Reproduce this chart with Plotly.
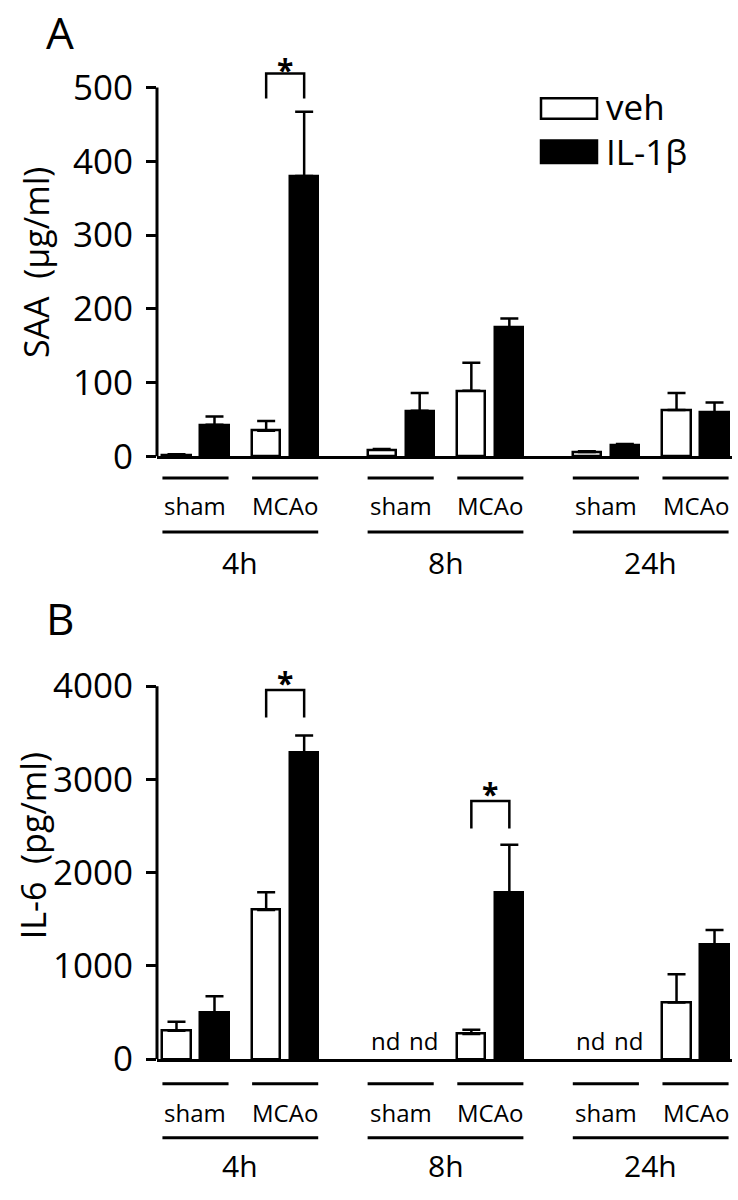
import plotly.graph_objects as go

# ---------------- data ----------------
times = ["4h", "8h", "24h"]
conditions = ["sham", "MCAo"]
treatments = ["veh", "IL-1β"]

# order of groups: 4h sham, 4h MCAo, 8h sham, 8h MCAo, 24h sham, 24h MCAo
saa_veh = [2, 35, 9, 89, 6, 63]
saa_veh_err = [1, 13, 1, 38, 1, 23]
saa_il1b = [43, 380, 62, 175, 15, 60]
saa_il1b_err = [11, 87, 24, 12, 2, 13]

# None = not detected (nd)
il6_veh = [305, 1600, None, 270, None, 607]
il6_veh_err = [98, 190, None, 45, None, 305]
il6_il1b = [498, 3290, None, 1789, None, 1228]
il6_il1b_err = [176, 180, None, 510, None, 158]

saa_ticks = [0, 100, 200, 300, 400, 500]
il6_ticks = [0, 1000, 2000, 3000, 4000]

# significance brackets: (group index, bracket top, leg bottom)
saa_sig = [(1, 519, 485)]
il6_sig = [(1, 3958, 3663), (3, 2768, 2474)]

# ---------------- layout constants ----------------
W, H = 738, 1200
FONT = "Open Sans"
T_STEP, C_STEP, K_STEP, BAR_W = 5.4, 2.36, 1.0, 0.74
X_RANGE = [-0.513, 14.62]
X_DOM = [157 / W, 732 / W]


def px_y(p):
    return 1 - p / H


def base_x(g):
    return (g // 2) * T_STEP + (g % 2) * C_STEP


n_groups = len(times) * len(conditions)
x_veh = [base_x(g) for g in range(n_groups)]
x_il = [base_x(g) + K_STEP for g in range(n_groups)]

fig = go.Figure()

panels = [
    dict(xa="x", ya="y", veh=saa_veh, veh_e=saa_veh_err, il=saa_il1b, il_e=saa_il1b_err,
         ticks=saa_ticks, yr=[0, 560], ydom=[px_y(465), px_y(44)], sig=saa_sig,
         title="SAA  (μg/ml)", tx=36, ty=268, letter="A", ltop=0,
         cond_line=487, cond_lab=515, time_line=542, time_lab=573, star_shift=4),
    dict(xa="x2", ya="y2", veh=il6_veh, veh_e=il6_veh_err, il=il6_il1b, il_e=il6_il1b_err,
         ticks=il6_ticks, yr=[0, 4500], ydom=[px_y(1079), px_y(651.5)], sig=il6_sig,
         title="IL-6  (pg/ml)", tx=33, ty=862, letter="B", ltop=597,
         cond_line=1104, cond_lab=1133, time_line=1159, time_lab=1187, star_shift=8),
]

shapes = []
annotations = []

for i, p in enumerate(panels):
    xa, ya = p["xa"], p["ya"]
    for xs, ys, es, fill, name in [(x_veh, p["veh"], p["veh_e"], "white", treatments[0]),
                                   (x_il, p["il"], p["il_e"], "black", treatments[1])]:
        fig.add_trace(go.Bar(
            x=xs, y=ys, width=BAR_W, name=name, showlegend=False,
            marker=dict(color=fill, line=dict(color="black", width=2.5)),
            error_y=dict(type="data", array=es, arrayminus=[0] * len(es), symmetric=False,
                         color="black", thickness=2.5, width=9),
            xaxis=xa, yaxis=ya,
        ))
        # nd labels
        for xv, yv in zip(xs, ys):
            if yv is None:
                annotations.append(dict(x=xv, y=0, xref=xa, yref=ya, text="nd", showarrow=False,
                                        xanchor="center", yanchor="bottom", xshift=4,
                                        font=dict(family=FONT, size=24, color="black")))

    # y axis line from 0 to top tick
    shapes.append(dict(type="line", xref="paper", yref=ya, x0=X_DOM[0], x1=X_DOM[0],
                       y0=0, y1=p["ticks"][-1], line=dict(color="black", width=3)))

    # group underlines and labels
    for g in range(n_groups):
        x0 = x_veh[g] - BAR_W / 2
        x1 = x_il[g] + BAR_W / 2
        shapes.append(dict(type="line", xref=xa, yref="paper", x0=x0, x1=x1,
                           y0=px_y(p["cond_line"]), y1=px_y(p["cond_line"]),
                           line=dict(color="black", width=3)))
        annotations.append(dict(x=(x0 + x1) / 2, y=px_y(p["cond_lab"]), xref=xa, yref="paper",
                                text=conditions[g % 2], showarrow=False, yanchor="middle",
                                font=dict(family=FONT, size=24, color="black")))
    for t in range(len(times)):
        x0 = x_veh[2 * t] - BAR_W / 2
        x1 = x_il[2 * t + 1] + BAR_W / 2
        shapes.append(dict(type="line", xref=xa, yref="paper", x0=x0, x1=x1,
                           y0=px_y(p["time_line"]), y1=px_y(p["time_line"]),
                           line=dict(color="black", width=3)))
        annotations.append(dict(x=(x0 + x1) / 2, y=px_y(p["time_lab"]), xref=xa, yref="paper",
                                text=times[t], showarrow=False, yanchor="middle",
                                font=dict(family=FONT, size=30, color="black")))

    # significance brackets
    for g, top, bottom in p["sig"]:
        xl, xr = x_veh[g], x_il[g]
        shapes.append(dict(type="path", xref=xa, yref=ya,
                           path=f"M {xl},{bottom} L {xl},{top} L {xr},{top} L {xr},{bottom}",
                           line=dict(color="black", width=2.5)))
        annotations.append(dict(x=(xl + xr) / 2, y=top, xref=xa, yref=ya, text="<b>*</b>",
                                showarrow=False, yanchor="middle", yshift=p["star_shift"],
                                font=dict(family=FONT, size=30, color="black")))

    # y title
    annotations.append(dict(x=p["tx"] / W, y=px_y(p["ty"]), xref="paper", yref="paper",
                            text=p["title"], textangle=-90, showarrow=False,
                            xanchor="center", yanchor="middle",
                            font=dict(family=FONT, size=34, color="black")))
    # panel letter
    annotations.append(dict(x=60 / W, y=px_y(p["ltop"]), xref="paper", yref="paper",
                            text=p["letter"], showarrow=False, xanchor="center", yanchor="top",
                            font=dict(family=FONT, size=44, color="black")))

    axis_x = dict(domain=X_DOM, range=X_RANGE, showline=True, linecolor="black", linewidth=3,
                  showticklabels=False, ticks="", showgrid=False, zeroline=False,
                  anchor=ya, fixedrange=True)
    axis_y = dict(domain=p["ydom"], range=p["yr"], showline=False, tickvals=p["ticks"],
                  ticks="outside", ticklen=10, tickwidth=3, tickcolor="black",
                  ticklabelstandoff=6, showgrid=False, zeroline=False, anchor=xa,
                  tickfont=dict(family=FONT, size=35, color="black"))
    if i == 0:
        fig.update_layout(xaxis=axis_x, yaxis=axis_y)
    else:
        fig.update_layout(xaxis2=axis_x, yaxis2=axis_y)

# legend (panel A)
for (y0, y1), fill, name, ty in [((100, 121), "white", treatments[0], 108),
                                 ((143, 166), "black", treatments[1], 154)]:
    shapes.append(dict(type="rect", xref="paper", yref="paper", x0=541 / W, x1=597 / W,
                       y0=px_y(y1), y1=px_y(y0), fillcolor=fill,
                       line=dict(color="black", width=2.5)))
    annotations.append(dict(x=604 / W, y=px_y(ty), xref="paper", yref="paper", text=name,
                            showarrow=False, xanchor="left", yanchor="middle",
                            font=dict(family=FONT, size=35, color="black")))

fig.update_layout(
    width=W, height=H, margin=dict(l=0, r=0, t=0, b=0),
    paper_bgcolor="white", plot_bgcolor="white",
    shapes=shapes, annotations=annotations, bargap=0, showlegend=False,
    font=dict(family=FONT, color="black"),
)

fig.write_html("out.html", config={"displayModeBar": False},
               post_script="document.body.style.margin='0';document.body.style.overflow='hidden';")
